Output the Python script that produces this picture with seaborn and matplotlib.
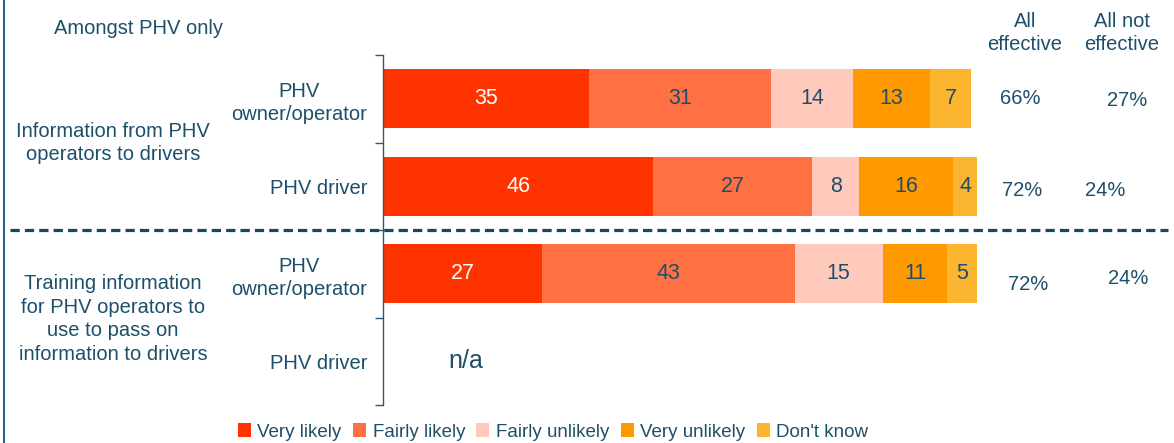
import matplotlib
matplotlib.use("Agg")
import matplotlib.pyplot as plt
import seaborn as sns
import pandas as pd
import numpy as np
from matplotlib.patches import Patch
from matplotlib.lines import Line2D

# ---- data ----
row_ids = ["r1", "r2", "r3", "r4"]
row_labels = ["PHV\nowner/operator", "PHV driver", "PHV\nowner/operator", "PHV driver"]
group_labels = ["Information from PHV\noperators to drivers",
                "Training information\nfor PHV operators to\nuse to pass on\ninformation to drivers"]
segments = ["Very likely", "Fairly likely", "Fairly unlikely", "Very unlikely", "Don't know"]
very_likely = [35, 46, 27]
fairly_likely = [31, 27, 43]
fairly_unlikely = [14, 8, 15]
very_unlikely = [13, 16, 11]
dont_know = [7, 4, 5]
all_effective = ["66%", "72%", "72%"]
all_not_effective = ["27%", "24%", "24%"]
colors = ["#FF3300", "#FF7043", "#FFC9BB", "#FF9900", "#FBB52F"]
label_colors = ["white", "#1D4F6B", "#1D4F6B", "#1D4F6B", "#1D4F6B"]

TXT = "#1D4F6B"
sns.set_theme(style="white")
plt.rcParams["font.family"] = ["Liberation Sans", "DejaVu Sans"]

series = [very_likely, fairly_likely, fairly_unlikely, very_unlikely, dont_know]
vals = np.array(series, dtype=float)  # (5 segments, 3 rows)
cum = np.cumsum(vals, axis=0)

XMAX = 101
PX = 5.88
fig = plt.figure(figsize=(11.74, 4.43), dpi=100)
ax = fig.add_axes([383/1174, 1-405/443, PX*XMAX/1174, (405-55)/443])

# stacked bars: draw cumulative totals, largest first
for i in range(len(segments)-1, -1, -1):
    df = pd.DataFrame({"row": row_ids[:3], "value": cum[i]})
    sns.barplot(data=df, x="value", y="row", order=row_ids, color=colors[i],
                width=0.675, saturation=1, ax=ax, orient="h", errorbar=None,
                linewidth=0, edgecolor="none")

# segment labels
for r in range(3):
    for i in range(len(segments)):
        start = cum[i, r] - vals[i, r]
        ax.text(start + vals[i, r]/2, r, f"{int(vals[i, r])}", ha="center", va="center",
                fontsize=15.5, color=label_colors[i])

ax.text(14, 3, "n/a", ha="center", va="center", fontsize=18, color=TXT)

ax.set_xlim(0, XMAX)
ax.set_ylim(3.5, -0.5)
ax.set_xlabel("")
ax.set_ylabel("")
ax.set_xticks([])
for s in ["top", "right", "bottom"]:
    ax.spines[s].set_visible(False)
ax.spines["left"].set_color("#2A5A78")
ax.spines["left"].set_linewidth(1.0)
ax.set_yticks([-0.5, 0.5, 1.5, 2.5, 3.5])
ax.set_yticklabels([])
ax.tick_params(axis="y", which="major", length=6, width=1.0, color="#2A5A78", direction="out", left=True)
ax.set_yticks([0, 1, 2, 3], minor=True)
ax.set_yticklabels(row_labels, minor=True, fontsize=14.5, color=TXT, multialignment="center",
                   linespacing=1.3)
ax.tick_params(axis="y", which="minor", length=0, pad=11.5)

# group labels
fig.text(113/1174, 1-143/443, group_labels[0], ha="center", va="center", fontsize=14.5,
         color=TXT, linespacing=1.3)
fig.text(113/1174, 1-319/443, group_labels[1], ha="center", va="center", fontsize=14.5,
         color=TXT, linespacing=1.3)
fig.text(138/1174, 1-28/443, "Amongst PHV only", ha="center", va="center", fontsize=14.5, color=TXT)

# right-hand columns
fig.text(1025/1174, 1-33/443, "All\neffective", ha="center", va="center", fontsize=14.5,
         color=TXT, linespacing=1.3)
fig.text(1122/1174, 1-33/443, "All not\neffective", ha="center", va="center", fontsize=14.5,
         color=TXT, linespacing=1.3)
eff_x = [1020, 1022, 1028]
eff_y = [98, 190, 285]
neff_x = [1127, 1105, 1128]
neff_y = [100, 190, 278]
for r in range(3):
    fig.text(eff_x[r]/1174, 1-eff_y[r]/443, all_effective[r], ha="center", va="center",
             fontsize=14.5, color=TXT)
    fig.text(neff_x[r]/1174, 1-neff_y[r]/443, all_not_effective[r], ha="center", va="center",
             fontsize=14.5, color=TXT)

# dashed separator
dl = Line2D([10/1174, 1168/1174], [1-230/443, 1-230/443], transform=fig.transFigure,
            color="#0F4B63", linewidth=2.3)
dl.set_dashes((2.9, 1.6))
fig.add_artist(dl)

# left frame line
fig.add_artist(Line2D([4/1174, 4/1174], [0, 1], transform=fig.transFigure,
                      color="#2E5E8E", linewidth=1.5))

# legend
handles = [Patch(facecolor=c, edgecolor="none", label=s) for c, s in zip(colors, segments)]
leg = fig.legend(handles=handles, loc="center", bbox_to_anchor=(553/1174, 1-432/443), ncol=5,
                 frameon=False, fontsize=13.5, handlelength=0.7, handleheight=0.7,
                 handletextpad=0.35, columnspacing=0.6, borderaxespad=0)
for t in leg.get_texts():
    t.set_color(TXT)

fig.savefig("out.png", dpi=100)
